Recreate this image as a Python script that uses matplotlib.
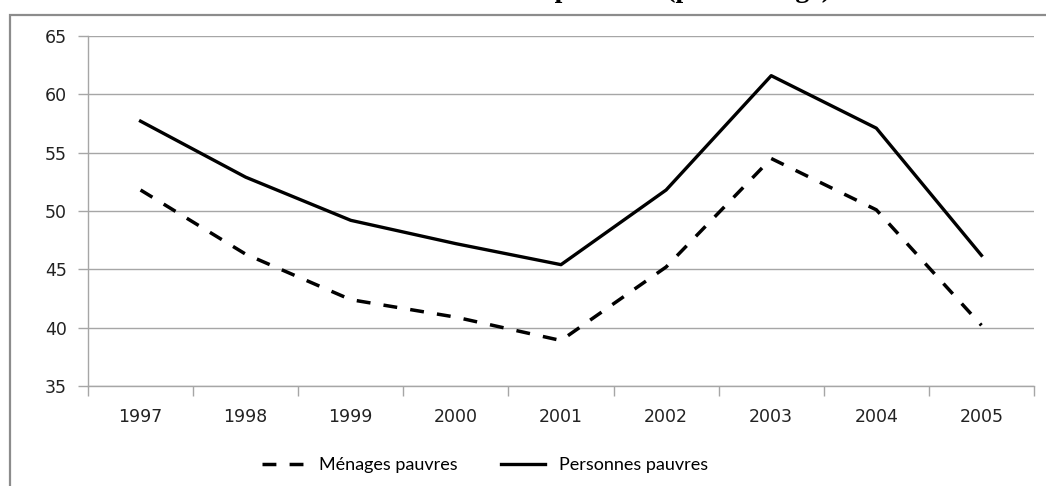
import matplotlib.pyplot as plt
from matplotlib.patches import Rectangle

years = ["1997", "1998", "1999", "2000", "2001", "2002", "2003", "2004", "2005"]
menages = [51.8, 46.3, 42.4, 40.9, 38.9, 45.2, 54.5, 50.1, 40.2]
personnes = [57.7, 52.9, 49.2, 47.2, 45.4, 51.8, 61.6, 57.1, 46.2]
y_ticks = [35, 40, 45, 50, 55, 60, 65]

W, H = 1046, 486
fig = plt.figure(figsize=(W / 100, H / 100), dpi=100)
ax = fig.add_axes([88 / W, 1 - 386 / H, (1034 - 88) / W, (386 - 36) / H])

grid_col = "#a6a6a6"
x = list(range(len(years)))

# outer chart frame (runs off the right and bottom edges)
fig.patches.append(Rectangle((10 / W, -0.2), 1.2, 1 - 15 / H + 0.2,
                             transform=fig.transFigure, fill=False,
                             edgecolor="#8c8c8c", linewidth=1.6, zorder=0))

# title, cut off at the top as in the source image
fig.text(600 / W, 1 + 3 / H, "Incidence de la pauvreté (pourcentage)",
         ha="center", va="baseline", fontsize=20, fontweight="bold",
         family="Liberation Serif", color="black")

ln_m, = ax.plot(x, menages, color="black", linewidth=2.5,
                linestyle=(0, (4.0, 3.8)), label="Ménages pauvres")
ln_p, = ax.plot(x, personnes, color="black", linewidth=2.4,
                label="Personnes pauvres")

ax.set_xlim(-0.5, len(years) - 0.5)
ax.set_ylim(35, 65)
ax.set_yticks(y_ticks)
ax.set_xticks(x)
ax.set_xticklabels(years)
ax.set_xticks([i - 0.5 for i in range(len(years) + 1)], minor=True)

ax.yaxis.grid(True, color=grid_col, linewidth=1.0)
ax.set_axisbelow(True)
for s in ["top", "right"]:
    ax.spines[s].set_visible(False)
for s in ["left", "bottom"]:
    ax.spines[s].set_color(grid_col)
    ax.spines[s].set_linewidth(1.0)

ax.tick_params(axis="x", which="major", length=0, pad=16)
ax.tick_params(axis="x", which="minor", length=7, color=grid_col, width=1.0)
ax.tick_params(axis="y", length=7, color=grid_col, width=1.0, pad=8)
for lab in ax.get_xticklabels() + ax.get_yticklabels():
    lab.set_family("DejaVu Sans")
    lab.set_fontsize(12.5)
    lab.set_color("#222222")

fig.legend(handles=[ln_m, ln_p], loc="center", ncol=2,
           bbox_to_anchor=(485 / W, 1 - 465 / H), frameon=False,
           handlelength=2.4, handletextpad=0.8, columnspacing=2.4,
           prop={"family": "Lato", "size": 13})

fig.savefig("out.png", dpi=100)
